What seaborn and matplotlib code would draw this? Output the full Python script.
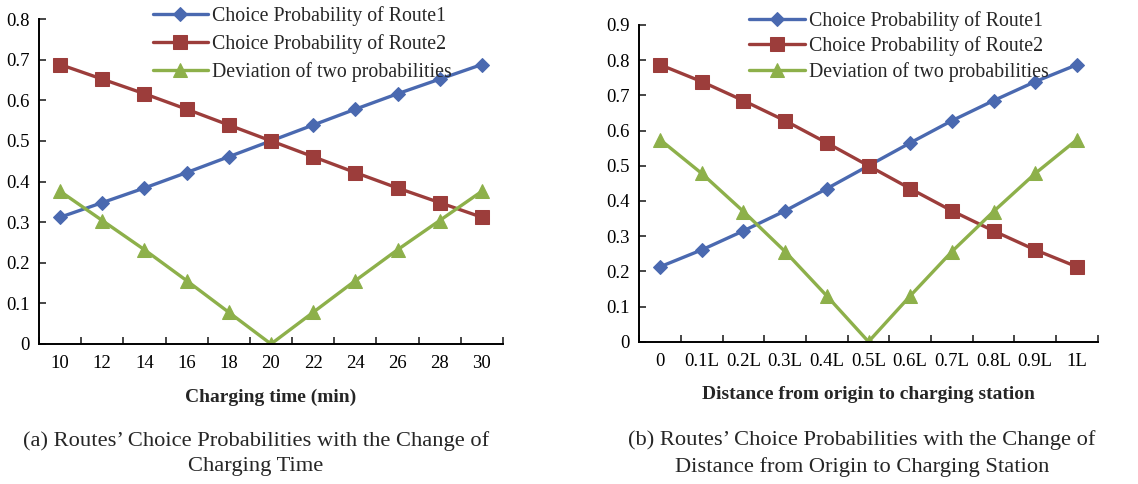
import numpy as np
import pandas as pd
import matplotlib
matplotlib.use("Agg")
import matplotlib.pyplot as plt
import seaborn as sns
from matplotlib.ticker import FixedLocator

sns.set_style("ticks")
plt.rcParams['font.family'] = ['Liberation Serif', 'DejaVu Serif']

# ---- data: panel (a)
time_cats = ["10", "12", "14", "16", "18", "20", "22", "24", "26", "28", "30"]
a_route1 = [0.312, 0.348, 0.384, 0.422, 0.461, 0.500, 0.539, 0.578, 0.616, 0.652, 0.688]
a_route2 = [0.688, 0.652, 0.616, 0.578, 0.539, 0.500, 0.461, 0.422, 0.384, 0.348, 0.312]
a_dev = [0.376, 0.304, 0.232, 0.156, 0.078, 0.000, 0.078, 0.156, 0.232, 0.304, 0.376]

# ---- data: panel (b)
dist_cats = ["0", "0.1L", "0.2L", "0.3L", "0.4L", "0.5L", "0.6L", "0.7L", "0.8L", "0.9L", "1L"]
b_route1 = [0.213, 0.261, 0.315, 0.372, 0.435, 0.500, 0.565, 0.628, 0.685, 0.739, 0.787]
b_route2 = [0.787, 0.739, 0.685, 0.628, 0.565, 0.500, 0.435, 0.372, 0.315, 0.261, 0.213]
b_dev = [0.574, 0.478, 0.370, 0.256, 0.130, 0.000, 0.130, 0.256, 0.370, 0.478, 0.574]

series_names = ["Choice Probability of Route1", "Choice Probability of Route2",
                "Deviation of two probabilities"]
colors = ["#4A69B0", "#9C3D3B", "#8DB04A"]
markers = ["D", "s", "^"]
msizes = [7.5, 10, 10]

a_yticks = [0, 0.1, 0.2, 0.3, 0.4, 0.5, 0.6, 0.7, 0.8]
a_ylabels = ["0", "0.1", "0.2", "0.3", "0.4", "0.5", "0.6", "0.7", "0.8"]
b_yticks = [0, 0.1, 0.2, 0.3, 0.4, 0.5, 0.6, 0.7, 0.8, 0.9]
b_ylabels = ["0", "0.1", "0.2", "0.3", "0.4", "0.5", "0.6", "0.7", "0.8", "0.9"]

fig = plt.figure(figsize=(11.38, 4.84), dpi=100)
axA = fig.add_axes([39/1138, 1-344/484, 464/1138, 325/484])
axB = fig.add_axes([639.3/1138, 1-341.7/484, 458.4/1138, 316.7/484])


def draw(ax, cats, vals, yticks, ylabels, xlabel, legend_anchor, spacing):
    for name, v, c, m, ms in zip(series_names, vals, colors, markers, msizes):
        df = pd.DataFrame({"x": cats, "y": v})
        sns.lineplot(data=df, x="x", y="y", ax=ax, color=c, marker=m,
                     markersize=ms, markeredgecolor=c, linewidth=2.4,
                     label=name, sort=False)
    n = len(cats)
    ax.set_xlim(-0.5, n - 0.5)
    ax.set_ylim(yticks[0], yticks[-1])
    ax.set_yticks(yticks)
    ax.set_yticklabels(ylabels)
    ax.set_xticks(range(n))
    ax.set_xticklabels(cats)
    ax.xaxis.set_minor_locator(FixedLocator(np.arange(-0.5, n, 1.0)))
    ax.tick_params(axis='x', which='major', length=0, labelsize=13.5, pad=8)
    ax.tick_params(axis='x', which='minor', length=5, width=1.2, direction='in')
    ax.tick_params(axis='y', which='major', length=5, width=1.2, direction='in',
                   labelsize=13.5, pad=7)
    for s in ['top', 'right']:
        ax.spines[s].set_visible(False)
    for s in ['left', 'bottom']:
        ax.spines[s].set_linewidth(1.4)
        ax.spines[s].set_color('black')
    ax.set_xlabel(xlabel, fontsize=14, fontweight='bold', labelpad=12)
    ax.set_ylabel("")
    ax.set_facecolor('white')
    ax.legend(loc='upper left', bbox_to_anchor=legend_anchor, frameon=False,
              fontsize=14.3, handlelength=2.8, handletextpad=0.2,
              labelspacing=spacing, borderpad=0, borderaxespad=0)
    for t in ax.get_xticklabels() + ax.get_yticklabels():
        t.set_color('black')


draw(axA, time_cats, [a_route1, a_route2, a_dev], a_yticks, a_ylabels,
     "Charging time (min)", (0.245, 1.04), 0.4)
draw(axB, dist_cats, [b_route1, b_route2, b_dev], b_yticks, b_ylabels,
     "Distance from origin to charging station", (0.24, 1.045), 0.29)

fig.text(256/1138, 1-453.5/484, "(a) Routes\u2019 Choice Probabilities with the Change of\nCharging Time",
         ha='center', va='center', fontsize=16.2, linespacing=1.45)
fig.text(862/1138, 1-453.5/484, "(b) Routes\u2019 Choice Probabilities with the Change of\nDistance from Origin to Charging Station",
         ha='center', va='center', fontsize=16.2, linespacing=1.45)

fig.savefig("out.png", dpi=100, facecolor='white')
